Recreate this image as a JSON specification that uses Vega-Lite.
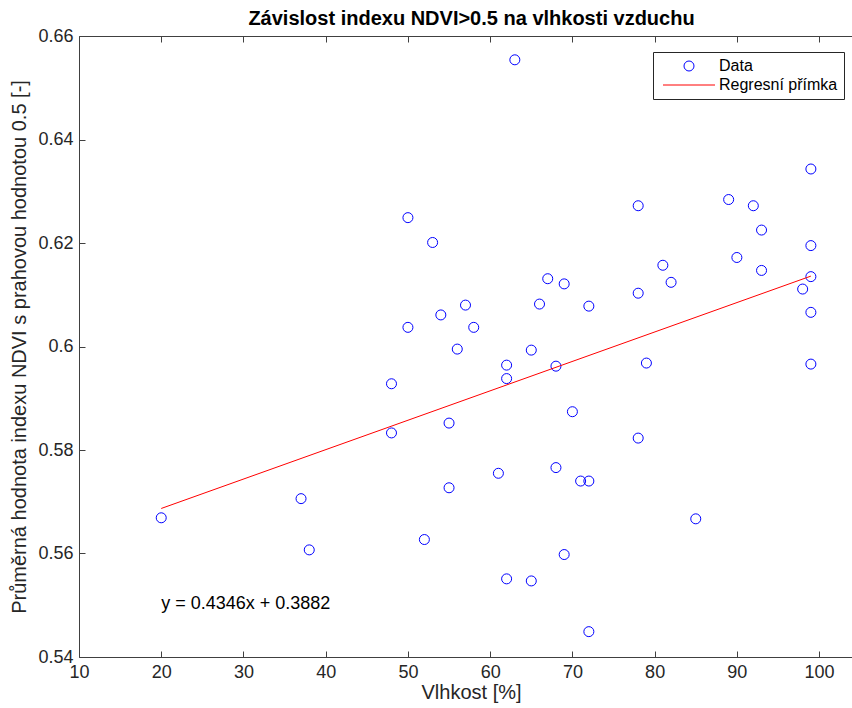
{
  "$schema": "https://vega.github.io/schema/vega-lite/v6.json",
  "width": 773,
  "height": 621,
  "autosize": {"type": "none"},
  "padding": {"left": 79, "top": 36, "right": 0, "bottom": 51},
  "background": "white",
  "config": {
    "font": "Liberation Sans",
    "view": {"stroke": null},
    "axis": {
      "domainColor": "#404040",
      "tickColor": "#404040",
      "labelColor": "#262626",
      "titleColor": "#262626",
      "labelFont": "Liberation Sans",
      "titleFont": "Liberation Sans",
      "labelFontSize": 18,
      "titleFontSize": 20,
      "titleFontWeight": "normal",
      "grid": false,
      "tickSize": -6,
      "labelPadding": 12,
      "labelFlush": false
    }
  },
  "title": {
    "text": "Závislost indexu NDVI>0.5 na vlhkosti vzduchu",
    "font": "Liberation Sans",
    "fontSize": 20,
    "fontWeight": "bold",
    "color": "#000000",
    "anchor": "middle",
    "dx": 6,
    "offset": -2
  },
  "datasets": {
    "points": [
      {"vlhkost": 20, "ndvi": 0.5669, "series": "Data"},
      {"vlhkost": 37, "ndvi": 0.5706, "series": "Data"},
      {"vlhkost": 38, "ndvi": 0.5607, "series": "Data"},
      {"vlhkost": 48, "ndvi": 0.5928, "series": "Data"},
      {"vlhkost": 48, "ndvi": 0.5833, "series": "Data"},
      {"vlhkost": 50, "ndvi": 0.6249, "series": "Data"},
      {"vlhkost": 50, "ndvi": 0.6037, "series": "Data"},
      {"vlhkost": 52, "ndvi": 0.5627, "series": "Data"},
      {"vlhkost": 53, "ndvi": 0.6201, "series": "Data"},
      {"vlhkost": 54, "ndvi": 0.6061, "series": "Data"},
      {"vlhkost": 55, "ndvi": 0.5852, "series": "Data"},
      {"vlhkost": 55, "ndvi": 0.5727, "series": "Data"},
      {"vlhkost": 56, "ndvi": 0.5995, "series": "Data"},
      {"vlhkost": 57, "ndvi": 0.608, "series": "Data"},
      {"vlhkost": 58, "ndvi": 0.6037, "series": "Data"},
      {"vlhkost": 61, "ndvi": 0.5755, "series": "Data"},
      {"vlhkost": 62, "ndvi": 0.5964, "series": "Data"},
      {"vlhkost": 62, "ndvi": 0.5938, "series": "Data"},
      {"vlhkost": 62, "ndvi": 0.5551, "series": "Data"},
      {"vlhkost": 63, "ndvi": 0.6554, "series": "Data"},
      {"vlhkost": 65, "ndvi": 0.5993, "series": "Data"},
      {"vlhkost": 65, "ndvi": 0.5547, "series": "Data"},
      {"vlhkost": 66, "ndvi": 0.6082, "series": "Data"},
      {"vlhkost": 67, "ndvi": 0.6131, "series": "Data"},
      {"vlhkost": 68, "ndvi": 0.5962, "series": "Data"},
      {"vlhkost": 68, "ndvi": 0.5766, "series": "Data"},
      {"vlhkost": 69, "ndvi": 0.6121, "series": "Data"},
      {"vlhkost": 69, "ndvi": 0.5598, "series": "Data"},
      {"vlhkost": 70, "ndvi": 0.5874, "series": "Data"},
      {"vlhkost": 71, "ndvi": 0.574, "series": "Data"},
      {"vlhkost": 72, "ndvi": 0.574, "series": "Data"},
      {"vlhkost": 72, "ndvi": 0.6078, "series": "Data"},
      {"vlhkost": 72, "ndvi": 0.5449, "series": "Data"},
      {"vlhkost": 78, "ndvi": 0.6272, "series": "Data"},
      {"vlhkost": 78, "ndvi": 0.6103, "series": "Data"},
      {"vlhkost": 78, "ndvi": 0.5823, "series": "Data"},
      {"vlhkost": 79, "ndvi": 0.5968, "series": "Data"},
      {"vlhkost": 81, "ndvi": 0.6157, "series": "Data"},
      {"vlhkost": 82, "ndvi": 0.6124, "series": "Data"},
      {"vlhkost": 85, "ndvi": 0.5667, "series": "Data"},
      {"vlhkost": 89, "ndvi": 0.6284, "series": "Data"},
      {"vlhkost": 90, "ndvi": 0.6172, "series": "Data"},
      {"vlhkost": 92, "ndvi": 0.6272, "series": "Data"},
      {"vlhkost": 93, "ndvi": 0.6225, "series": "Data"},
      {"vlhkost": 93, "ndvi": 0.6147, "series": "Data"},
      {"vlhkost": 98, "ndvi": 0.6111, "series": "Data"},
      {"vlhkost": 99, "ndvi": 0.6343, "series": "Data"},
      {"vlhkost": 99, "ndvi": 0.6195, "series": "Data"},
      {"vlhkost": 99, "ndvi": 0.6135, "series": "Data"},
      {"vlhkost": 99, "ndvi": 0.6066, "series": "Data"},
      {"vlhkost": 99, "ndvi": 0.5966, "series": "Data"}
    ],
    "line": [
      {"vlhkost": 20, "ndvi": 0.5687, "series": "Regresní přímka"},
      {"vlhkost": 99, "ndvi": 0.6136, "series": "Regresní přímka"}
    ],
    "eq": [
      {"vlhkost": 20, "ndvi": 0.5502, "label": "y = 0.4346x + 0.3882"}
    ]
  },
  "layer": [
    {
      "data": {"name": "points"},
      "mark": {"type": "point", "filled": false, "size": 100, "strokeWidth": 1, "opacity": 1},
      "encoding": {
        "x": {
          "field": "vlhkost", "type": "quantitative",
          "scale": {"domain": [10, 104], "nice": false, "zero": false},
          "axis": {
            "orient": "bottom",
            "title": "Vlhkost [%]",
            "values": [10, 20, 30, 40, 50, 60, 70, 80, 90, 100],
            "titlePadding": 1,
            "titleX": 392
          }
        },
        "y": {
          "field": "ndvi", "type": "quantitative",
          "scale": {"domain": [0.54, 0.66], "nice": false, "zero": false},
          "axis": {
            "title": "Průměrná hodnota indexu NDVI s prahovou hodnotou 0.5 [-]",
            "values": [0.54, 0.56, 0.58, 0.6, 0.62, 0.64, 0.66],
            "labelExpr": "format(datum.value, '.2~f')",
            "titlePadding": 8
          }
        },
        "shape": {
          "field": "series", "type": "nominal",
          "scale": {"domain": ["Data", "Regresní přímka"], "range": ["circle", "M-5.2,0H5.2"]}
        },
        "color": {
          "field": "series", "type": "nominal",
          "scale": {"domain": ["Data", "Regresní přímka"], "range": ["#0000ff", "#ff0000"]},
          "legend": {
            "title": null,
            "orient": "none",
            "legendX": 574,
            "legendY": 16,
            "padding": 6,
            "strokeColor": "#262626",
            "fillColor": "#ffffff",
            "cornerRadius": 0,
            "labelFont": "Liberation Sans",
            "labelFontSize": 16,
            "labelColor": "#000000",
            "symbolSize": 100,
            "symbolStrokeWidth": 1,
            "symbolOffset": 22,
            "labelOffset": 22,
            "rowPadding": 3
          }
        }
      }
    },
    {
      "data": {"name": "line"},
      "mark": {"type": "line", "strokeWidth": 1},
      "encoding": {
        "x": {
          "field": "vlhkost", "type": "quantitative",
          "axis": {"orient": "top", "labels": false, "title": null, "values": [10, 20, 30, 40, 50, 60, 70, 80, 90, 100]}
        },
        "y": {"field": "ndvi", "type": "quantitative"},
        "color": {"field": "series", "type": "nominal"}
      }
    },
    {
      "data": {"name": "eq"},
      "mark": {"type": "text", "align": "left", "baseline": "middle", "font": "Liberation Sans", "fontSize": 18, "color": "#000000"},
      "encoding": {
        "x": {"field": "vlhkost", "type": "quantitative", "axis": null},
        "y": {"field": "ndvi", "type": "quantitative"},
        "text": {"field": "label"}
      }
    }
  ],
  "resolve": {"axis": {"x": "independent"}}
}
